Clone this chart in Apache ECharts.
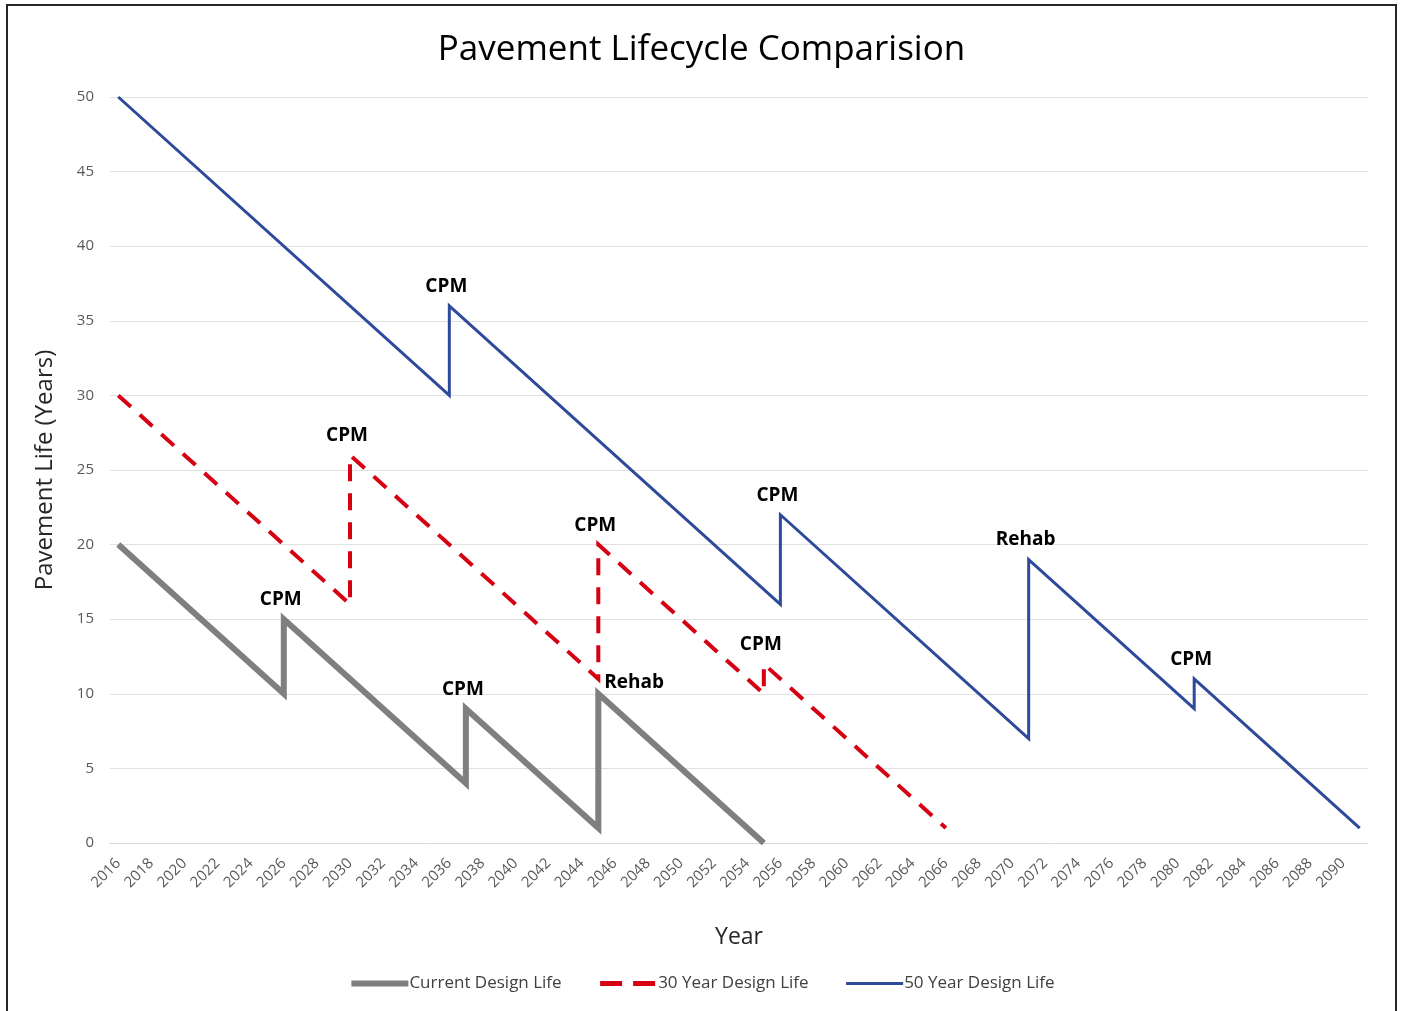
<!DOCTYPE html>
<html>
<head>
<meta charset="utf-8">
<script src="https://cdn.jsdelivr.net/npm/echarts@6/dist/echarts.min.js"></script>
<style>
  html, body { margin: 0; padding: 0; background: #fff; }
  #frame { position: absolute; left: 6px; top: 4px; width: 1391px; height: 1020px; border: 2px solid #262626; box-sizing: border-box; }
  #chart { position: absolute; left: 0; top: 0; width: 1403px; height: 1011px; }
</style>
</head>
<body>
<div id="frame"></div>
<div id="chart"></div>
<script>
// ---- data ----
const yearTickLabels = [];
for (let y = 2016; y <= 2090; y += 2) yearTickLabels.push(y);

const currentYears = [2016, 2026, 2026, 2037, 2037, 2045, 2045, 2055];
const currentLife  = [20, 10, 15, 4, 9, 1, 10, 0];
const currentNotes = ['', '', 'CPM', '', 'CPM', '', 'Rehab', ''];

const design30Years = [2016, 2030, 2030, 2045, 2045, 2055, 2055, 2066];
const design30Life  = [30, 16, 26, 11, 20, 10, 12, 1];
const design30Notes = ['', '', 'CPM', '', 'CPM', '', 'CPM', ''];

const design50Years = [2016, 2036, 2036, 2056, 2056, 2071, 2071, 2081, 2081, 2091];
const design50Life  = [50, 30, 36, 16, 22, 7, 19, 9, 11, 1];
const design50Notes = ['', '', 'CPM', '', 'CPM', '', 'Rehab', '', 'CPM', ''];

const FONT = '"Open Sans", "Noto Sans", sans-serif';

function pairs(xs, ys) { return xs.map((x, i) => [x, ys[i]]); }

function notePoints(xs, ys, notes, rehabRight) {
  const out = [];
  notes.forEach((n, i) => {
    if (!n) return;
    const right = rehabRight && n === 'Rehab';
    out.push({
      coord: [xs[i], ys[i]],
      value: n,
      label: {
        show: true,
        formatter: n,
        position: right ? 'right' : 'top',
        distance: right ? 6 : 10,
        offset: right ? [0, -11] : [-3, 0]
      }
    });
  });
  return out;
}

function markPointCfg(xs, ys, notes, rehabRight) {
  return {
    symbol: 'circle',
    symbolSize: 0,
    itemStyle: { color: 'rgba(0,0,0,0)' },
    silent: true,
    label: { color: '#000', fontWeight: 'bold', fontSize: 19, fontFamily: FONT },
    data: notePoints(xs, ys, notes, rehabRight)
  };
}

const chart = echarts.init(document.getElementById('chart'), null, { renderer: 'canvas' });
chart.setOption({
  animation: false,
  backgroundColor: 'transparent',
  title: {
    text: 'Pavement Lifecycle Comparision',
    left: 'center',
    top: 28,
    textStyle: { fontFamily: FONT, fontWeight: 'normal', fontSize: 35, color: '#000' }
  },
  legend: {
    bottom: 14,
    left: 'center',
    itemWidth: 57,
    itemHeight: 14,
    itemGap: 36,
    itemStyle: { opacity: 0 },
    textStyle: { fontFamily: FONT, fontSize: 17, color: '#404040', padding: [0, 0, 0, -4] },
    data: [
      { name: 'Current Design Life', lineStyle: { width: 6 } },
      { name: '30 Year Design Life', lineStyle: { width: 5, type: [22, 11] } },
      { name: '50 Year Design Life', lineStyle: { width: 3 } }
    ]
  },
  grid: { left: 110, right: 35, top: 97, bottom: 1011 - 843, containLabel: false },
  xAxis: {
    type: 'value',
    min: 2015.5,
    max: 2091.5,
    name: 'Year',
    nameLocation: 'middle',
    nameGap: 83,
    nameTextStyle: { fontFamily: FONT, fontSize: 23, color: '#262626' },
    axisLine: { show: true, lineStyle: { color: '#d9d9d9', width: 1 } },
    axisTick: { show: false },
    splitLine: { show: false },
    axisLabel: {
      customValues: yearTickLabels,
      rotate: 45,
      margin: 18,
      color: '#595959',
      fontFamily: FONT,
      fontSize: 15,
      formatter: v => String(v)
    }
  },
  yAxis: {
    type: 'value',
    min: 0,
    max: 50,
    interval: 5,
    name: 'Pavement Life (Years)',
    nameLocation: 'middle',
    nameGap: 53,
    nameTextStyle: { fontFamily: FONT, fontSize: 24, color: '#262626' },
    axisLine: { show: false },
    axisTick: { show: false },
    axisLabel: { color: '#595959', fontFamily: FONT, fontSize: 15, margin: 16 },
    splitLine: { lineStyle: { color: '#e0e0e0', width: 1 } }
  },
  series: [
    {
      name: 'Current Design Life',
      type: 'line',
      symbol: 'none',
      data: pairs(currentYears, currentLife),
      lineStyle: { color: '#7f7f7f', width: 6, join: 'miter', cap: 'butt' },
      itemStyle: { color: '#7f7f7f' },
      markPoint: markPointCfg(currentYears, currentLife, currentNotes, true),
      z: 2
    },
    {
      name: '30 Year Design Life',
      type: 'line',
      symbol: 'none',
      data: pairs(design30Years, design30Life),
      lineStyle: { color: '#d60012', width: 4, type: [17, 12], join: 'miter', cap: 'butt' },
      itemStyle: { color: '#d60012' },
      markPoint: markPointCfg(design30Years, design30Life, design30Notes, false),
      z: 3
    },
    {
      name: '50 Year Design Life',
      type: 'line',
      symbol: 'none',
      data: pairs(design50Years, design50Life),
      lineStyle: { color: '#2e4a9a', width: 3, join: 'miter', cap: 'butt' },
      itemStyle: { color: '#2e4a9a' },
      markPoint: markPointCfg(design50Years, design50Life, design50Notes, false),
      z: 4
    }
  ]
});
</script>
</body>
</html>
